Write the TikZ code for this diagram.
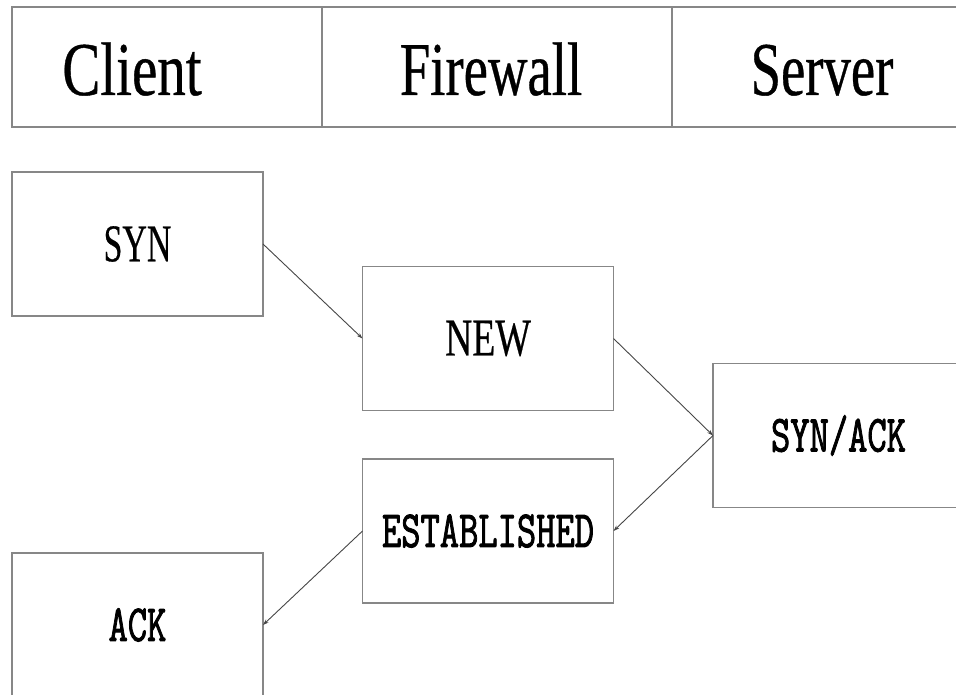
\documentclass[tikz,border=0pt]{standalone}
\usepackage{fontspec}
\setmainfont{Liberation Serif}
\newfontfamily\seriff[FakeBold=0.6]{Liberation Serif}
\newfontfamily\monof[FakeBold=2]{Latin Modern Mono}
\usetikzlibrary{arrows.meta}
\newcommand{\hsq}[2]{\scalebox{#1}[1]{#2}}
\definecolor{boxgray}{RGB}{135,135,135}
\definecolor{arrgray}{RGB}{70,70,70}
\begin{document}
\begin{tikzpicture}[x=1pt,y=-1pt,
  cell/.style={draw=boxgray,line width=1.3pt,rectangle,inner sep=0pt,outer sep=0pt,anchor=north west,minimum height=120pt},
  statebox/.style={draw=boxgray,line width=1.3pt,rectangle,minimum width=251pt,minimum height=144pt,inner sep=0pt,outer sep=0pt},
  serifl/.style={font=\seriff\fontsize{53}{53}\selectfont},
  monol/.style={font=\monof\fontsize{52}{52}\selectfont},
  head/.style={font=\seriff\fontsize{76}{76}\selectfont,anchor=base,inner sep=0pt},
  flow/.style={draw=arrgray,line width=0.9pt,-{Stealth[length=6pt,width=4pt]}}]
\useasboundingbox (0,0) rectangle (956,695);
\clip (0,0) rectangle (956,695);
\fill[white] (0,0) rectangle (956,695);
% header
\node[cell,minimum width=310pt] (hc) at (12,7) {};
\node[cell,minimum width=350pt] (hf) at (322,7) {};
\node[cell,minimum width=320pt] (hs) at (672,7) {};
\node[head] (tclient) at (132,95) {\hsq{0.75}{Client}};
\node[head] (tfire) at (491,95) {\hsq{0.72}{Firewall}};
\node[head] (tserver) at (822,95) {\hsq{0.72}{Server}};
% states
\node[statebox,serifl] (syn) at (137.5,244) {\hsq{0.64}{SYN}};
\node[statebox,serifl] (new) at (488,338.5) {\hsq{0.71}{NEW}};
\node[statebox,monol] (synack) at (838.5,435.5) {\hsq{0.72}{SYN/ACK}};
\node[statebox,monol] (est) at (488,531) {\hsq{0.72}{ESTABLISHED}};
\node[statebox,monol] (ack) at (137.5,625) {\hsq{0.72}{ACK}};
% connectors
\draw[flow] (syn.east) -- (new.west);
\draw[flow] (new.east) -- (synack.west);
\draw[flow] (synack.west) -- (est.east);
\draw[flow] (est.west) -- (ack.east);
\end{tikzpicture}
\end{document}
